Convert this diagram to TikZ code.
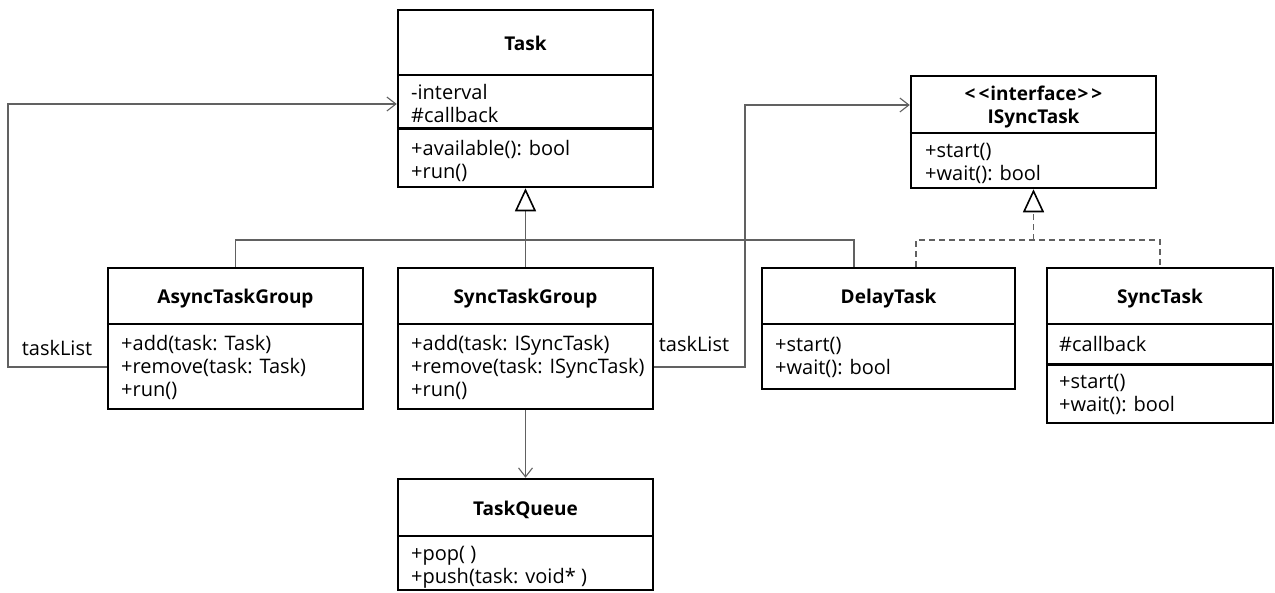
\documentclass[tikz,border=0pt]{standalone}
\usepackage{fontspec}
\setmainfont{Open Sans}
\usetikzlibrary{arrows.meta}
\begin{document}
\begin{tikzpicture}[x=1pt,y=-1pt,
  cls/.style={draw=black, line width=2.5pt, inner sep=0pt, minimum width=255pt},
  divl/.style={line width=2.5pt},
  ttl/.style={font=\fontsize{19}{23}\selectfont\bfseries, anchor=base, inner sep=0pt},
  txt/.style={font=\fontsize{20}{23}\selectfont, anchor=base west, inner sep=0pt},
  conn/.style={draw=black!62, line width=1.2pt},
  assoc/.style={conn, -{Straight Barb[length=9pt,width=14pt,line width=1.1pt]}},
  gen/.style={conn, -{Triangle[open,length=23pt,width=21pt,line width=1.6pt,color=black,fill=white]}},
  real/.style={conn, dash pattern=on 6pt off 4pt}
]
\useasboundingbox (0,0) rectangle (1275,592);

% ---------- class boxes ----------
\node[cls, minimum height=177pt] (task) at (525.5,98.5) {};
\node[cls, minimum height=141pt] (async) at (235.5,338.5) {};
\node[cls, minimum height=141pt] (sync) at (525.5,338.5) {};
\node[cls, minimum height=111pt] (queue) at (525.5,534.5) {};
\node[cls, minimum width=245pt, minimum height=112pt] (isync) at (1033.5,132) {};
\node[cls, minimum width=253pt, minimum height=121pt] (delay) at (888.5,328.5) {};
\node[cls, minimum width=226pt, minimum height=155pt] (synctask) at (1160,345.5) {};

% ---------- compartment dividers ----------
\draw[divl] ([yshift=-66pt]task.north west) -- ([yshift=-66pt]task.north east);
\draw[divl] ([yshift=-119.5pt]task.north west) -- ([yshift=-119.5pt]task.north east);
\draw[divl] ([yshift=-57pt]async.north west) -- ([yshift=-57pt]async.north east);
\draw[divl] ([yshift=-57pt]sync.north west) -- ([yshift=-57pt]sync.north east);
\draw[divl] ([yshift=-58pt]queue.north west) -- ([yshift=-58pt]queue.north east);
\draw[divl] ([yshift=-58pt]isync.north west) -- ([yshift=-58pt]isync.north east);
\draw[divl] ([yshift=-57pt]delay.north west) -- ([yshift=-57pt]delay.north east);
\draw[divl] ([yshift=-57pt]synctask.north west) -- ([yshift=-57pt]synctask.north east);
\draw[divl] ([yshift=-97.5pt]synctask.north west) -- ([yshift=-97.5pt]synctask.north east);

% ---------- Task ----------
\node[ttl] (taskT) at (525.5,50.5) {Task};
\node[txt] (taskA1) at (411,99.5) {-interval};
\node[txt] (taskA2) at (411,122.5) {\#callback};
\node[txt] (taskM1) at (411,155) {+available(): bool};
\node[txt] (taskM2) at (411,178) {+run()};

% ---------- AsyncTaskGroup ----------
\node[ttl] (asyncT) at (235.5,303.5) {AsyncTaskGroup};
\node[txt] (asyncM1) at (121,350) {+add(task: Task)};
\node[txt] (asyncM2) at (121,373) {+remove(task: Task)};
\node[txt] (asyncM3) at (121,396) {+run()};

% ---------- SyncTaskGroup ----------
\node[ttl] (syncT) at (525.5,303.5) {SyncTaskGroup};
\node[txt] (syncM1) at (411,350) {+add(task: ISyncTask)};
\node[txt] (syncM2) at (411,373) {+remove(task: ISyncTask)};
\node[txt] (syncM3) at (411,396) {+run()};

% ---------- TaskQueue ----------
\node[ttl] (queueT) at (525.5,515) {TaskQueue};
\node[txt] (queueM1) at (411,560.5) {+pop( )};
\node[txt] (queueM2) at (411,583.5) {+push(task: void* )};

% ---------- ISyncTask ----------
\node[ttl] (isyncS) at (1033.5,100) {<\kern3pt<\kern1pt interface\kern1pt>\kern3pt>};
\node[ttl] (isyncT) at (1033.5,123) {ISyncTask};
\node[txt] (isyncM1) at (925,157) {+start()};
\node[txt] (isyncM2) at (925,180) {+wait(): bool};

% ---------- DelayTask ----------
\node[ttl] (delayT) at (888.5,303.5) {DelayTask};
\node[txt] (delayM1) at (775,351) {+start()};
\node[txt] (delayM2) at (775,374) {+wait(): bool};

% ---------- SyncTask ----------
\node[ttl] (synctaskT) at (1160,303.5) {SyncTask};
\node[txt] (synctaskA1) at (1059,351) {\#callback};
\node[txt] (synctaskM1) at (1059,388.5) {+start()};
\node[txt] (synctaskM2) at (1059,411.5) {+wait(): bool};

% ---------- generalization to Task ----------
\coordinate (gbus) at (525.5,240);
\coordinate (dT) at ([xshift=-34.5pt]delay.north);
\draw[gen] (sync.north) -- (task.south);
\draw[conn] (async.north) |- (gbus) -| (dT);

% ---------- realization of ISyncTask ----------
\coordinate (rbus) at (1033.5,240);
\coordinate (dR) at ([xshift=27.5pt]delay.north);
\draw[real] (dR) |- (rbus) -| (synctask.north);
\draw[real, gen] (rbus) -- (isync.south);

% ---------- associations ----------
\coordinate (lft) at (8,104);
\coordinate (rgt) at (745,105);
\draw[assoc] ([yshift=-28.5pt]async.west) -| (lft) -- ([yshift=-5.5pt]task.west);
\draw[assoc] ([yshift=-28.5pt]sync.east) -| (rgt) -- ([yshift=27pt]isync.west);
\draw[assoc] (sync.south) -- (queue.north);

\node[txt, anchor=base] (lblA) at (57,355) {taskList};
\node[txt, anchor=base] (lblS) at (694,351) {taskList};
\end{tikzpicture}
\end{document}
